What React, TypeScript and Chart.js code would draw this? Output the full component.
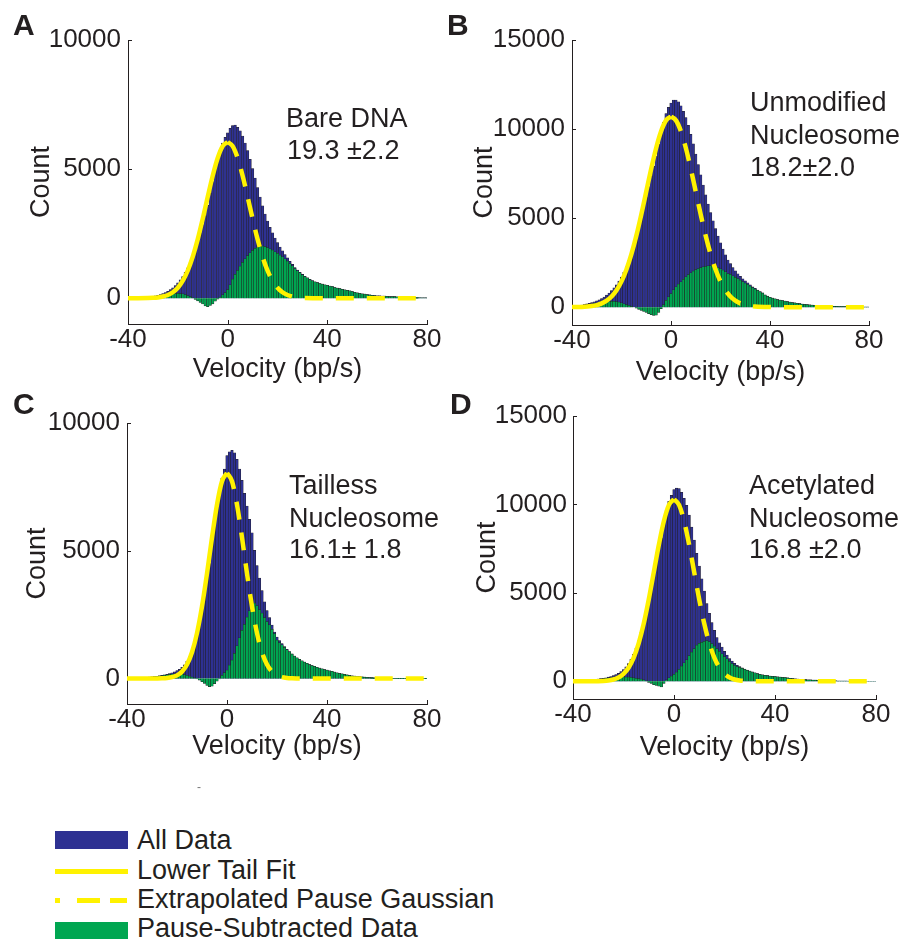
import React, { useEffect, useRef } from 'react';
import { Chart, registerables } from 'chart.js';

Chart.register(...registerables);

const FONT = "'Liberation Sans', Arial, Helvetica, sans-serif";
const INK = '#231f20';
const BLUE = '#2e3192';
const GREEN = '#00a651';
const YELLOW = '#fff200';

// Histogram bins: 1 bp/s wide, centres from -40 to 80 bp/s
const BIN_START = -40;
const BIN_WIDTH = 1;
const VELOCITY_TICKS = [-40, 0, 40, 80];
const COUNT_TICKS_10K = [0, 5000, 10000];
const COUNT_TICKS_15K = [0, 5000, 10000, 15000];

// Velocities at which the pause Gaussian fit is sampled
const FIT_X = [-40, -36, -32, -30, -28, -26, -24, -22, -20, -18, -16, -14, -12, -10, -8, -6, -4, -2, 0,
  2, 4, 6, 8, 10, 12, 14, 16, 18, 20, 22, 24, 26, 28, 30, 34, 40, 50, 60, 70, 80];

// A: bare DNA
const bareDnaAll = [
  15, 15, 20, 20, 25, 30, 35, 40, 50, 60,
  75, 90, 110, 140, 175, 215, 270, 330, 400, 485,
  590, 710, 840, 1000, 1180, 1380, 1620, 1880, 2180, 2510,
  2850, 3200, 3600, 4060, 4520, 4990, 5390, 5740, 6010, 6230,
  6400, 6580, 6690, 6700, 6620, 6480, 6280, 6010, 5720, 5380,
  5020, 4650, 4280, 3920, 3580, 3260, 2990, 2740, 2530, 2330,
  2150, 1980, 1830, 1690, 1560, 1430, 1310, 1190, 1090, 1000,
  920, 850, 790, 730, 680, 635, 600, 570, 545, 520,
  495, 470, 445, 415, 390, 370, 345, 320, 300, 280,
  260, 230, 205, 185, 170, 155, 140, 125, 115, 105,
  95, 90, 85, 78, 72, 66, 62, 58, 55, 50,
  45, 40, 36, 32, 28, 25, 22, 18, 15, 12,
  10,
];
const bareDnaPauseSub = [
  15, 15, 20, 20, 25, 30, 35, 40, 45, 55,
  60, 70, 80, 95, 110, 125, 145, 160, 170, 180,
  185, 180, 165, 140, 105, 60, 10, -50, -105, -160,
  -225, -300, -325, -285, -220, -120, -40, 45, 125, 220,
  330, 520, 740, 920, 1080, 1240, 1390, 1520, 1650, 1760,
  1850, 1930, 1980, 2010, 2020, 2000, 1960, 1910, 1860, 1800,
  1740, 1670, 1600, 1520, 1440, 1340, 1250, 1150, 1060, 980,
  905, 840, 785, 725, 675, 635, 600, 570, 545, 520,
  495, 470, 445, 415, 390, 370, 345, 320, 300, 280,
  260, 230, 205, 185, 170, 155, 140, 125, 115, 105,
  95, 90, 85, 78, 72, 66, 62, 58, 55, 50,
  45, 40, 36, 32, 28, 25, 22, 18, 15, 12,
  10,
];
const bareDnaFit = [0, 0, 6, 14, 30, 63, 123, 229, 405, 677, 1072, 1608, 2285, 3077, 3925, 4743, 5430, 5889, 6050,
  5889, 5430, 4743, 3925, 3077, 2285, 1608, 1072, 677, 405, 229, 123, 63, 30, 14, 2, 0, 0, 0, 0, 0];

// B: unmodified nucleosome
const unmodifiedAll = [
  64, 75, 87, 105, 125, 153, 183, 216, 254, 298,
  354, 414, 487, 574, 674, 790, 930, 1085, 1261, 1460,
  1688, 1955, 2268, 2622, 3024, 3474, 3956, 4477, 5029, 5602,
  6190, 6777, 7349, 7915, 8488, 9143, 9797, 10379, 10868, 11227,
  11460, 11630, 11630, 11530, 11300, 11000, 10640, 10205, 9700, 9170,
  8600, 8010, 7430, 6860, 6310, 5790, 5310, 4850, 4410, 3990,
  3610, 3260, 2940, 2650, 2450, 2230, 2044, 1879, 1732, 1599,
  1479, 1368, 1254, 1146, 1053, 963, 875, 800, 690, 620,
  560, 510, 470, 430, 400, 370, 340, 310, 285, 260,
  240, 220, 200, 180, 165, 150, 135, 120, 110, 100,
  90, 82, 75, 68, 62, 56, 50, 45, 40, 36,
  32, 28, 25, 22, 19, 16, 14, 12, 10, 8,
  6,
];
const unmodifiedPauseSub = [
  60, 70, 80, 95, 110, 130, 150, 170, 190, 210,
  235, 255, 275, 295, 310, 320, 330, 325, 310, 280,
  240, 195, 150, 100, 50, 0, -60, -120, -180, -240,
  -300, -360, -420, -460, -450, -300, -80, 150, 380, 580,
  760, 980, 1140, 1300, 1420, 1560, 1700, 1830, 1930, 2030,
  2110, 2170, 2220, 2260, 2290, 2320, 2340, 2330, 2290, 2230,
  2160, 2080, 1990, 1890, 1850, 1760, 1680, 1600, 1520, 1440,
  1360, 1280, 1190, 1100, 1020, 940, 860, 790, 683, 615,
  556, 510, 470, 430, 400, 370, 340, 310, 285, 260,
  240, 220, 200, 180, 165, 150, 135, 120, 110, 100,
  90, 82, 75, 68, 62, 56, 50, 45, 40, 36,
  32, 28, 25, 22, 19, 16, 14, 12, 10, 8,
  6,
];
const unmodifiedFit = [4, 15, 64, 119, 212, 364, 600, 951, 1448, 2118, 2974, 4016, 5209, 6490, 7769, 8938, 9877, 10488, 10700,
  10488, 9877, 8938, 7769, 6490, 5209, 4016, 2974, 2118, 1448, 951, 600, 364, 212, 119, 33, 4, 0, 0, 0, 0];

// C: tailless nucleosome
const taillessAll = [
  10, 12, 15, 18, 22, 26, 30, 36, 42, 50,
  60, 71, 87, 104, 122, 141, 164, 191, 220, 258,
  306, 362, 438, 537, 667, 848, 1083, 1384, 1754, 2189,
  2687, 3248, 3840, 4492, 5216, 5991, 6695, 7304, 7839, 8196,
  8720, 8870, 8930, 8830, 8580, 8200, 7760, 7250, 6750, 6230,
  5700, 5020, 4420, 3930, 3440, 3000, 2660, 2380, 2090, 1820,
  1620, 1480, 1370, 1250, 1140, 1050, 960, 880, 810, 750,
  690, 640, 590, 545, 505, 470, 440, 410, 380, 350,
  325, 300, 275, 250, 225, 200, 180, 160, 140, 120,
  100, 90, 80, 70, 60, 52, 45, 38, 32, 27,
  22, 19, 16, 14, 12, 10, 9, 8, 7, 6,
  5, 5, 4, 4, 3, 3, 3, 2, 2, 2,
  2,
];
const taillessPauseSub = [
  10, 12, 15, 18, 22, 26, 30, 36, 42, 50,
  60, 70, 85, 100, 115, 130, 145, 160, 170, 180,
  185, 180, 170, 150, 120, 90, 55, 20, -20, -70,
  -130, -190, -270, -320, -300, -200, -110, -20, 120, 230,
  330, 520, 720, 980, 1280, 1590, 1880, 2120, 2400, 2650,
  2880, 2950, 2850, 2700, 2560, 2380, 2230, 2100, 1920, 1760,
  1500, 1400, 1320, 1220, 1120, 1040, 953, 876, 808, 749,
  690, 640, 590, 545, 505, 470, 440, 410, 380, 350,
  325, 300, 275, 250, 225, 200, 180, 160, 140, 120,
  100, 90, 80, 70, 60, 52, 45, 38, 32, 27,
  22, 19, 16, 14, 12, 10, 9, 8, 7, 6,
  5, 5, 4, 4, 3, 3, 3, 2, 2, 2,
  2,
];
const taillessFit = [0, 0, 0, 0, 2, 7, 19, 50, 121, 268, 547, 1028, 1774, 2817, 4110, 5516, 6805, 7719, 8050,
  7719, 6805, 5516, 4110, 2817, 1774, 1028, 547, 268, 121, 50, 19, 7, 2, 0, 0, 0, 0, 0, 0, 0];

// D: acetylated nucleosome
const acetylatedAll = [
  20, 25, 30, 35, 45, 55, 65, 82, 98, 115,
  132, 152, 174, 200, 236, 274, 322, 384, 458, 551,
  668, 816, 1003, 1237, 1525, 1873, 2292, 2780, 3330, 3937,
  4563, 5263, 5979, 6726, 7449, 8111, 8941, 9663, 10176, 10518,
  10840, 10920, 10900, 10680, 10350, 9950, 9400, 8720, 7980, 7240,
  6520, 5800, 5100, 4400, 3850, 3320, 2880, 2470, 2180, 1940,
  1700, 1480, 1290, 1140, 1010, 910, 830, 760, 690, 630,
  580, 530, 480, 440, 400, 370, 345, 320, 300, 285,
  270, 255, 240, 225, 205, 190, 175, 160, 145, 130,
  118, 108, 98, 90, 82, 75, 68, 62, 55, 50,
  45, 40, 35, 30, 25, 20, 18, 16, 14, 12,
  10, 9, 8, 7, 6, 5, 5, 4, 4, 3,
  3,
];
const acetylatedPauseSub = [
  20, 25, 30, 35, 45, 55, 65, 80, 95, 110,
  125, 140, 155, 170, 190, 205, 220, 235, 245, 250,
  250, 245, 235, 220, 200, 175, 150, 120, 80, 30,
  -60, -120, -190, -230, -270, -320, -120, 80, 200, 300,
  400, 520, 680, 860, 1050, 1220, 1450, 1650, 1850, 2050,
  2150, 2200, 2260, 2300, 2250, 2140, 1990, 1850, 1700, 1560,
  1400, 1270, 1130, 1000, 905, 840, 784, 730, 671, 618,
  573, 525, 477, 438, 400, 370, 345, 320, 300, 285,
  270, 255, 240, 225, 205, 190, 175, 160, 145, 130,
  118, 108, 98, 90, 82, 75, 68, 62, 55, 50,
  45, 40, 35, 30, 25, 20, 18, 16, 14, 12,
  10, 9, 8, 7, 6, 5, 5, 4, 4, 3,
  3,
];
const acetylatedFit = [0, 0, 3, 7, 19, 46, 102, 213, 418, 768, 1325, 2142, 3250, 4623, 6169, 7719, 9061, 9976, 10300,
  9976, 9061, 7719, 6169, 4623, 3250, 2142, 1325, 768, 418, 213, 102, 46, 19, 7, 1, 0, 0, 0, 0, 0];

type PanelSpec = {
  key: string;
  left: number;
  top: number;
  width: number;
  height: number;
  padTop: number;
  padRight: number;
  yAxisWidth: number;
  xAxisHeight: number;
  yTitlePad: number;
  xTitlePad: number;
  yLabelPad: number;
  yMax: number;
  yTicks: number[];
  all: number[];
  pauseSub: number[];
  fit: number[];
};

const PANELS: PanelSpec[] = [
  { key: 'A', left: 0, top: 0, width: 450, height: 400, padTop: 40, padRight: 23, yAxisWidth: 128, xAxisHeight: 76,
    yTitlePad: 25.8, xTitlePad: 14.5, yLabelPad: 7, yMax: 10000, yTicks: COUNT_TICKS_10K,
    all: bareDnaAll, pauseSub: bareDnaPauseSub, fit: bareDnaFit },
  { key: 'B', left: 450, top: 0, width: 452, height: 400, padTop: 40, padRight: 33, yAxisWidth: 122, xAxisHeight: 75,
    yTitlePad: 18.8, xTitlePad: 11.1, yLabelPad: 7, yMax: 15000, yTicks: COUNT_TICKS_15K,
    all: unmodifiedAll, pauseSub: unmodifiedPauseSub, fit: unmodifiedFit },
  { key: 'C', left: 0, top: 383, width: 450, height: 400, padTop: 40, padRight: 23, yAxisWidth: 127, xAxisHeight: 79,
    yTitlePad: 21.8, xTitlePad: 19.8, yLabelPad: 7, yMax: 10000, yTicks: COUNT_TICKS_10K,
    all: taillessAll, pauseSub: taillessPauseSub, fit: taillessFit },
  { key: 'D', left: 450, top: 383, width: 452, height: 400, padTop: 33, padRight: 26, yAxisWidth: 123, xAxisHeight: 84,
    yTitlePad: 21.8, xTitlePad: 19.1, yLabelPad: 6, yMax: 15000, yTicks: COUNT_TICKS_15K,
    all: acetylatedAll, pauseSub: acetylatedPauseSub, fit: acetylatedFit },
];

// Short tick marks drawn inward from the axis lines
const innerTicks = {
  id: 'innerTicks',
  beforeDatasetsDraw(chart: any) {
    const { ctx, chartArea, scales } = chart;
    ctx.save();
    ctx.strokeStyle = INK;
    ctx.lineWidth = 1;
    ctx.beginPath();
    for (const t of scales.x.ticks) {
      const px = Math.round(scales.x.getPixelForValue(t.value)) + 0.5;
      ctx.moveTo(px, chartArea.bottom);
      ctx.lineTo(px, chartArea.bottom - 4);
    }
    for (const t of scales.y.ticks) {
      const py = Math.round(scales.y.getPixelForValue(t.value)) + 0.5;
      ctx.moveTo(chartArea.left, py);
      ctx.lineTo(chartArea.left + 4, py);
    }
    ctx.stroke();
    ctx.restore();
  },
};

function HistogramPanel({ spec }: { spec: PanelSpec }) {
  const ref = useRef<HTMLCanvasElement | null>(null);

  useEffect(() => {
    if (!ref.current) return;
    const bins = (vals: number[]) => vals.map((y, i) => ({ x: BIN_START + i * BIN_WIDTH, y }));
    const fitPts = FIT_X.map((x, i) => ({ x, y: spec.fit[i] }));
    const tickFont = { family: FONT, size: 26 };
    const titleFont = { family: FONT, size: 27 };
    const barStyle = {
      borderColor: INK,
      borderWidth: 0.5,
      grouped: false,
      barPercentage: 1,
      categoryPercentage: 1,
    };

    const chart = new Chart(ref.current, {
      type: 'bar',
      data: {
        datasets: [
          {
            type: 'line',
            label: 'Extrapolated Pause Gaussian',
            data: fitPts.filter((p) => p.x >= 0),
            borderColor: YELLOW,
            borderWidth: 4.5,
            borderDash: [18, 13],
            pointRadius: 0,
            cubicInterpolationMode: 'monotone',
            order: 1,
          },
          {
            type: 'line',
            label: 'Lower Tail Fit',
            data: fitPts.filter((p) => p.x <= 0),
            borderColor: YELLOW,
            borderWidth: 4.5,
            pointRadius: 0,
            cubicInterpolationMode: 'monotone',
            order: 2,
          },
          {
            type: 'bar',
            label: 'Pause-Subtracted Data',
            data: bins(spec.pauseSub),
            backgroundColor: GREEN,
            ...barStyle,
            order: 3,
          },
          {
            type: 'bar',
            label: 'All Data',
            data: bins(spec.all),
            backgroundColor: BLUE,
            ...barStyle,
            order: 4,
          },
        ] as any,
      },
      options: {
        responsive: false,
        animation: false,
        events: [],
        layout: { padding: { top: spec.padTop, right: spec.padRight, bottom: 0, left: 0 } },
        plugins: { legend: { display: false }, tooltip: { enabled: false } },
        scales: {
          x: {
            type: 'linear',
            min: -40,
            max: 80,
            offset: false,
            grid: { display: false, drawTicks: false },
            border: { display: true, color: INK, width: 1 },
            afterBuildTicks: (s: any) => {
              s.ticks = VELOCITY_TICKS.map((v) => ({ value: v }));
            },
            ticks: { font: tickFont, color: INK, padding: 0, maxRotation: 0, autoSkip: false, callback: (v: any) => String(v) },
            title: {
              display: true,
              text: 'Velocity (bp/s)',
              font: titleFont,
              color: INK,
              padding: { top: 0, bottom: spec.xTitlePad },
            },
            afterFit: (s: any) => {
              s.height = spec.xAxisHeight;
            },
          },
          y: {
            type: 'linear',
            min: -1000,
            max: spec.yMax,
            grid: { display: false, drawTicks: false },
            border: { display: true, color: INK, width: 1 },
            afterBuildTicks: (s: any) => {
              s.ticks = spec.yTicks.map((v) => ({ value: v }));
            },
            ticks: { font: tickFont, color: INK, padding: spec.yLabelPad, autoSkip: false, callback: (v: any) => String(v) },
            title: {
              display: true,
              text: 'Count',
              font: titleFont,
              color: INK,
              padding: { top: spec.yTitlePad, bottom: 0 },
            },
            afterFit: (s: any) => {
              s.width = spec.yAxisWidth;
            },
          },
        },
      } as any,
      plugins: [innerTicks],
    });
    return () => chart.destroy();
  }, [spec]);

  return (
    <canvas
      ref={ref}
      width={spec.width}
      height={spec.height}
      style={{ position: 'absolute', left: spec.left, top: spec.top, width: spec.width, height: spec.height }}
    />
  );
}

function Txt({ x, baseline, size = 27, bold = false, color = INK, children }: any) {
  return (
    <div
      style={{
        position: 'absolute',
        left: x,
        top: baseline - size * 0.8465,
        fontFamily: FONT,
        fontSize: size,
        lineHeight: `${size}px`,
        fontWeight: bold ? 700 : 400,
        color,
        whiteSpace: 'pre',
      }}
    >
      {children}
    </div>
  );
}

function Box({ x, y, w, h, color }: { x: number; y: number; w: number; h: number; color: string }) {
  return <div style={{ position: 'absolute', left: x, top: y, width: w, height: h, background: color }} />;
}

export default function App() {
  return (
    <div style={{ position: 'absolute', left: 0, top: 0, width: 902, height: 941, background: '#fff', overflow: 'hidden' }}>
      {PANELS.map((p) => (
        <HistogramPanel key={p.key} spec={p} />
      ))}

      <Txt x={13} baseline={35} size={30} bold>A</Txt>
      <Txt x={447} baseline={35} size={30} bold>B</Txt>
      <Txt x={13} baseline={414} size={30} bold>C</Txt>
      <Txt x={450} baseline={414} size={30} bold>D</Txt>

      <Txt x={286} baseline={128}>Bare DNA</Txt>
      <Txt x={287} baseline={160}>19.3 ±2.2</Txt>

      <Txt x={750} baseline={112}>Unmodified</Txt>
      <Txt x={750} baseline={145}>Nucleosome</Txt>
      <Txt x={750} baseline={177}>18.2±2.0</Txt>

      <Txt x={289} baseline={495}>Tailless</Txt>
      <Txt x={289} baseline={528}>Nucleosome</Txt>
      <Txt x={289} baseline={559}>16.1± 1.8</Txt>

      <Txt x={749} baseline={495}>Acetylated</Txt>
      <Txt x={749} baseline={528}>Nucleosome</Txt>
      <Txt x={749} baseline={559}>16.8 ±2.0</Txt>

      <Txt x={197} baseline={791} size={12} color="#777">-</Txt>

      {/* legend */}
      <Box x={55} y={831} w={73} h={18} color={BLUE} />
      <Txt x={137} baseline={850}>All Data</Txt>
      <Box x={55} y={869} w={73} h={5} color={YELLOW} />
      <Txt x={137} baseline={880}>Lower Tail Fit</Txt>
      <Box x={55} y={898} w={5} h={5} color={YELLOW} />
      <Box x={77} y={898} w={23} h={5} color={YELLOW} />
      <Box x={110} y={898} w={17} h={5} color={YELLOW} />
      <Txt x={137} baseline={909}>Extrapolated Pause Gaussian</Txt>
      <Box x={55} y={922} w={73} h={17} color={GREEN} />
      <Txt x={137} baseline={938}>Pause-Subtracted Data</Txt>
    </div>
  );
}
